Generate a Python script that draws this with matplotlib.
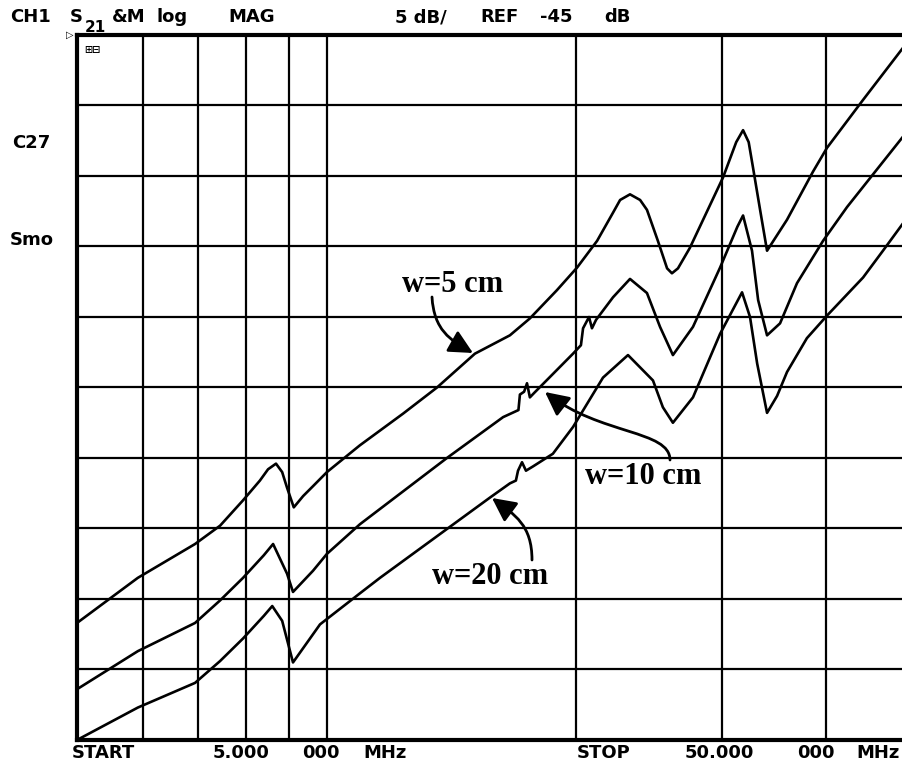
import matplotlib
matplotlib.use("Agg")
import matplotlib.pyplot as plt
from matplotlib.path import Path
from matplotlib.patches import FancyArrowPatch
from matplotlib.ticker import NullLocator

# S21 magnitude traces (MHz, dB)
f_w5 = [5.00, 5.92, 6.94, 7.44, 7.93, 8.31, 8.50, 8.69, 8.84, 8.96, 9.13, 9.37, 9.63,
        10.01, 10.76, 10.97, 12.37, 13.59, 15.10, 16.64, 17.59, 18.96, 20.05,
        21.20, 22.16, 22.60, 23.23, 23.89, 24.35, 25.10, 25.75, 26.10, 26.54,
        27.43, 30.08, 31.20, 31.80, 32.30, 32.69, 33.34, 33.99, 35.93, 38.61, 40.15,
        44.38, 49.6]
db_w5 = [-61.7, -58.5, -56.1, -54.8, -53.0, -51.6, -50.8, -50.4, -51.0, -52.1, -53.5, -52.7,
         -52.0, -51.0, -49.5, -49.1, -46.85, -45.0, -42.6, -41.3, -40.1, -38.1, -36.5,
         -34.6, -32.6, -31.7, -31.3, -31.7, -32.4, -34.6, -36.55, -36.9, -36.55,
         -35.1, -30.1, -27.6, -26.75, -27.6, -29.4, -32.4, -35.3, -33.1, -29.7, -28.0,
         -24.6, -20.9]

f_w10 = [5.00, 5.92, 6.94, 7.44, 7.93, 8.40, 8.62, 8.96, 9.11, 9.63, 10.01, 10.97, 13.97,
         16.33, 17.04, 17.11, 17.31, 17.45, 17.59, 17.79, 19.83, 20.27, 20.39, 20.73,
         20.90, 21.14, 22.16, 23.23, 24.35, 25.25, 26.17, 27.67, 29.83, 31.30, 31.80,
         32.60, 33.16, 33.99, 35.24, 36.94, 39.71, 42.45, 49.6]
db_w10 = [-66.4, -63.7, -61.7, -60.1, -58.5, -56.9, -56.1, -58.2, -59.5, -58.0, -56.8, -54.7,
          -50.0, -47.1, -46.6, -45.5, -45.3, -44.7, -45.7, -45.4, -42.6, -42.0, -40.8,
          -40.0, -40.8, -40.2, -38.6, -37.3, -38.3, -40.7, -42.7, -40.7, -36.5, -33.6,
          -32.8, -35.3, -38.8, -41.3, -40.45, -37.6, -34.6, -32.2, -27.2]

f_w20 = [5.00, 5.92, 6.94, 7.44, 7.93, 8.40, 8.60, 8.84, 9.11, 9.82, 10.97, 11.60, 15.75,
         16.64, 16.92, 17.02, 17.21, 17.40, 17.74, 18.75, 19.83, 21.55, 23.10, 24.76,
         25.45, 26.17, 27.67, 29.83, 31.71, 32.42, 33.07, 33.99, 34.95, 35.93, 37.97,
         40.15, 44.38, 46.9, 49.6]
db_w20 = [-70.0, -67.7, -65.95, -64.4, -62.8, -61.2, -60.5, -61.55, -64.5, -61.8, -59.6, -58.5,
          -52.8, -51.8, -51.6, -50.9, -50.3, -50.9, -50.6, -49.7, -47.8, -44.3, -42.7,
          -44.5, -46.4, -47.5, -45.7, -41.2, -38.25, -40.0, -43.3, -46.8, -45.6, -43.9,
          -41.5, -39.9, -37.2, -35.3, -33.35]

ref_db = -45
db_per_div = 5
f_start, f_stop = 5, 50
vgrid = [6, 7, 8, 9, 10, 20, 30, 40]

W, H = 903, 771
fig = plt.figure(figsize=(W / 100, H / 100), dpi=100)


def px(x, y):
    return x / W, 1 - y / H


ax = fig.add_axes([77 / W, 31 / H, 829 / W, 705 / H])
ax.set_xscale("log")
ax.set_xlim(f_start, f_stop)
ax.set_ylim(ref_db - 5 * db_per_div, ref_db + 5 * db_per_div)
ax.set_xticks(vgrid)
ax.xaxis.set_minor_locator(NullLocator())
ax.set_yticks(range(ref_db - 4 * db_per_div, ref_db + 5 * db_per_div, db_per_div))
ax.grid(True, color="black", lw=1.6)
ax.tick_params(length=0, labelbottom=False, labelleft=False)
for s in ax.spines.values():
    s.set_linewidth(3)

for f, d in [(f_w5, db_w5), (f_w10, db_w10), (f_w20, db_w20)]:
    ax.plot(f, d, color="black", lw=1.9, solid_joinstyle="round")

# screen annotations
hdr = dict(family="DejaVu Sans", weight="bold", size=13, va="center", ha="left")
for txt, x, y in [("CH1", 10, 17), ("S", 70, 17), ("&M", 112, 17),
                  ("log", 157, 17), ("MAG", 228, 17), ("5 dB/", 395, 17),
                  ("REF", 480, 17), ("-45", 540, 17), ("dB", 604, 17),
                  ("START", 72, 753), ("5.000", 213, 753), ("000", 302, 753),
                  ("MHz", 363, 753), ("STOP", 577, 753), ("50.000", 685, 753),
                  ("000", 797, 753), ("MHz", 856, 753),
                  ("C27", 12, 143), ("Smo", 10, 240)]:
    fig.text(*px(x, y), txt, **hdr)
fig.text(*px(85, 27), "21", family="DejaVu Sans", weight="bold", size=11,
         va="center", ha="left")
fig.text(*px(66, 35), "\u25b7", size=7, weight="bold", va="center", ha="left")
fig.text(*px(84, 50), "\u229e\u229f", size=7, weight="bold", va="center", ha="left")

lab = dict(family="Liberation Serif", weight="bold", size=22, ha="left", va="baseline")
fig.text(*px(402, 292), "w=5 cm", **lab)
fig.text(*px(585, 484), "w=10 cm", **lab)
fig.text(*px(432, 584), "w=20 cm", **lab)

arrows = [
    [(432, 297), (434, 330), (450, 340), (473, 353)],
    [(670, 460), (670, 430), (600, 435), (545, 392)],
    [(532, 560), (532, 525), (515, 515), (492, 498)],
]
for pts in arrows:
    path = Path([px(*p) for p in pts],
                [Path.MOVETO, Path.CURVE4, Path.CURVE4, Path.CURVE4])
    arr = FancyArrowPatch(path=path, arrowstyle="-|>,head_length=0.8,head_width=0.4",
                          mutation_scale=18, lw=2, color="black",
                          transform=fig.transFigure)
    fig.add_artist(arr)

fig.savefig("out.png", dpi=100, facecolor="white")
